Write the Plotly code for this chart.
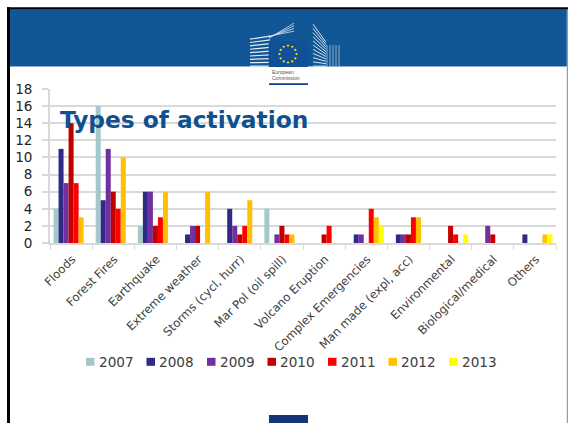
import math
import plotly.graph_objects as go

categories = ["Floods", "Forest Fires", "Earthquake", "Extreme weather", "Storms (cycl, hurr)",
              "Mar Pol (oil spill)", "Volcano Eruption", "Complex Emergencies", "Man made (expl, acc)",
              "Environmental", "Biological/medical", "Others"]
y2007 = [4, 16, 2, 0, 0, 4, 0, 0, 0, 0, 0, 0]
y2008 = [11, 5, 6, 1, 4, 0, 0, 1, 1, 0, 0, 1]
y2009 = [7, 11, 6, 2, 2, 1, 0, 1, 1, 0, 2, 0]
y2010 = [14, 6, 2, 2, 1, 2, 1, 0, 1, 2, 1, 0]
y2011 = [7, 4, 3, 0, 2, 1, 2, 4, 3, 1, 0, 0]
y2012 = [3, 10, 6, 6, 5, 1, 0, 3, 3, 0, 0, 1]
y2013 = [0, 0, 0, 0, 0, 0, 0, 2, 0, 1, 0, 1]
years = ["2007", "2008", "2009", "2010", "2011", "2012", "2013"]
series = [y2007, y2008, y2009, y2010, y2011, y2012, y2013]
colors = ["#a5c8cc", "#2e2a86", "#7030a0", "#c00000", "#ff0000", "#ffc000", "#ffff00"]
y_ticks = list(range(0, 20, 2))

W, H = 568, 424
L, R, T, B = 50, 556, 89, 243.5


def px(x):
    return (x - L) / (R - L)


def py(y):
    return (B - y) / (B - T)


fig = go.Figure()
for name, vals, c in zip(years, series, colors):
    fig.add_bar(name=name, x=categories, y=vals, marker=dict(color=c, line=dict(width=0)))

shapes = []
annotations = []


def rect(x0, y0, x1, y1, color, layer="below"):
    shapes.append(dict(type="rect", xref="paper", yref="paper", x0=px(x0), x1=px(x1), y0=py(y0), y1=py(y1),
                       fillcolor=color, line=dict(width=0), layer=layer))


def line(x0, y0, x1, y1, color, w=1, layer="below"):
    shapes.append(dict(type="line", xref="paper", yref="paper", x0=px(x0), x1=px(x1), y0=py(y0), y1=py(y1),
                       line=dict(color=color, width=w), layer=layer))


# slide frame and header
rect(7, 7, 568, 9.5, "#000000")
rect(7, 7, 10, 424, "#000000")
rect(566.8, 9, 568, 424, "#9a9a9a")
rect(10, 9.5, 566.8, 66, "#115695")
rect(10, 66, 566.8, 67, "#8fb0cf")
# building: left wing
for i in range(9):
    t = i / 8
    line(250, 39 + t * 27, 270, 36 + t * 30, "#e4edf5", 1.2)
# building: curved upper wing
for i in range(4):
    t = i / 3
    line(269, 36 - t * 2 + 2, 294, 23 + t * 8, "#d5e2ef", 0.8)
# building: right wing
for i in range(11):
    t = i / 10
    line(313, 24 + t * 42, 326, 42 + t * 24, "#d5e2ef", 1)
for i in range(5):
    line(327 + i * 3, 45, 327 + i * 3, 66, "#8fb0d0", 1)
# flag
rect(268.7, 41, 307.7, 67, "#114f96")
for k in range(12):
    a = 2 * math.pi * k / 12
    cx, cy = 288 + 8.5 * math.sin(a), 54 - 8.5 * math.cos(a)
    shapes.append(dict(type="circle", xref="paper", yref="paper", x0=px(cx - 1.1), x1=px(cx + 1.1),
                       y0=py(cy + 1.1), y1=py(cy - 1.1), fillcolor="#f4e11a", line=dict(width=0), layer="below"))
rect(269, 83.3, 308, 85, "#0b3d91")
rect(269, 416, 308, 424, "#143578")

# legend drawn as a row of swatches with real text
for i, (yr, c) in enumerate(zip(years, colors)):
    x0 = 86 + i * 60.5
    rect(x0, 358.7, x0 + 8.5, 366.7, c)
    annotations.append(dict(text=yr, xref="paper", yref="paper", x=px(x0 + 10.5), y=py(362.5), xanchor="left",
                            yanchor="middle", showarrow=False, font=dict(size=13.6, color="#404040")))

annotations += [
    dict(text="<b>Types of activation</b>", xref="paper", yref="paper", x=px(58), y=py(120),
         xanchor="left", yanchor="middle", showarrow=False, font=dict(size=23.3, color="#11508f")),
    dict(text="European", xref="paper", yref="paper", x=px(269.5), y=py(71.7), xanchor="left", yanchor="middle",
         showarrow=False, font=dict(size=5, color="#555555", family="Liberation Sans")),
    dict(text="Commission", xref="paper", yref="paper", x=px(269.5), y=py(78), xanchor="left", yanchor="middle",
         showarrow=False, font=dict(size=5, color="#555555", family="Liberation Sans")),
]

fig.update_layout(
    width=W, height=H, autosize=False,
    margin=dict(l=L, r=W - R, t=T, b=H - B, pad=0),
    paper_bgcolor="white", plot_bgcolor="rgba(0,0,0,0)",
    barmode="group", bargap=0.167, bargroupgap=0,
    font=dict(family="DejaVu Sans", color="#404040"),
    shapes=shapes, annotations=annotations,
    showlegend=False,
)
fig.update_xaxes(tickangle=-45, tickfont=dict(size=11.7, color="#404040"), showgrid=False, ticks="outside",
                 ticklen=5, tickcolor="#d9d9d9", showline=True, linecolor="#d9d9d9", linewidth=1.5,
                 tickson="boundaries", automargin=False, ticklabelstandoff=3, ticklabelshift=1)
fig.update_yaxes(range=[0, 18], tickvals=y_ticks, tickfont=dict(size=13.6, color="#262626"), showgrid=True,
                 gridcolor="#d9d9d9", gridwidth=1.5, showline=True, linecolor="#d9d9d9", linewidth=1.5,
                 ticks="outside", ticklen=6, tickcolor="#d9d9d9", tickwidth=1.5, zeroline=False,
                 automargin=False, ticklabelstandoff=7)
fig.write_html("out.html", config={"displayModeBar": False},
               post_script="document.body.style.margin='0';document.body.style.overflow='hidden';")
